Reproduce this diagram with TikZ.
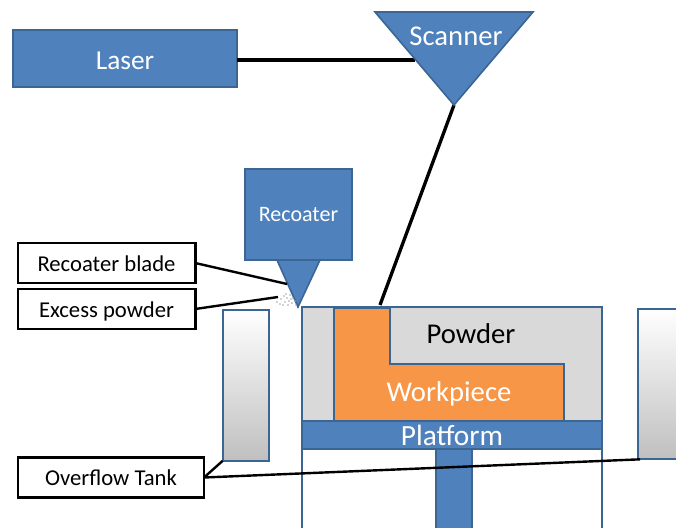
\documentclass[tikz,border=0pt]{standalone}
\usepackage{fontspec}
\setmainfont{Carlito}
\usetikzlibrary{shapes,calc}
\definecolor{lcblue}{HTML}{4F81BD}
\definecolor{lcedge}{HTML}{3B6694}
\definecolor{lcpowder}{HTML}{D9D9D9}
\definecolor{lcwork}{HTML}{F79646}
\begin{document}
\begin{tikzpicture}[x=0.75pt, y=-0.75pt]
% -------------------------------------------------
% A few box styles
\tikzset{
  base/.style={draw, inner sep=0pt, outer sep=0pt, align=center},
  unit/.style={base, rectangle, fill=lcblue, draw=lcedge, line width=1.5pt, text=white},
  label/.style={base, rectangle, fill=white, draw=black, line width=2pt,
    text height=12.5pt, text depth=0pt,
    minimum width=133pt, minimum height=30pt, font={\fontsize{17}{19}\selectfont}},
  tank/.style={base, rectangle, draw=lcedge, line width=1.5pt,
    top color=white, bottom color=black!25, minimum height=113pt},
  % -------------------------------------------------
  % Connector line styles
  beam/.style={draw, black, line width=2.5pt},
  lead/.style={draw, black, line width=1.8pt},
  grain/.style={fill=black!35, circle, inner sep=0pt, minimum size=1.4pt}
}
\clip (0,0) rectangle (676,528);
% -------------------------------------------------
% Coordinates for the outlines that are not boxes
\coordinate (s1) at (375,12);
\coordinate (s2) at (533,12);
\coordinate (s3) at (454,105);
\coordinate (b1) at (277,260);
\coordinate (b2) at (320,260);
\coordinate (b3) at (298,307);
\coordinate (bladeend) at (287,284);
\coordinate (grainend) at (278,297);
\coordinate (scanin) at (415,60);
\coordinate (beamend) at (380,305);
% -------------------------------------------------
% Connectors go first, the shapes sit on top of them
\node [unit, minimum width=168pt, minimum height=43pt, text height=15.8pt, text depth=0pt,
  font={\fontsize{20.5}{22}\selectfont}] (laser) at (125,58.5) {Laser};
\draw [beam] ($(laser.east)+(0,1.5)$) -- (scanin);
\draw [beam] (s3) -- (beamend);
% Scanner
\draw [fill=lcblue, draw=lcedge, line width=1.2pt] (s1) -- (s2) -- (s3) -- cycle;
\node [text=white, font={\fontsize{21.5}{23}\selectfont}] (scanner) at (456,36) {Scanner};
% Recoater
\node [unit, minimum width=80pt, minimum height=68pt,
  font={\fontsize{16.5}{18}\selectfont}] (recoater) at (298.5,214.5) {Recoater};
\draw [fill=lcblue, draw=lcedge, line width=1.2pt] (b1) -- (b2) -- (b3) -- cycle;
% excess powder
\foreach \gx/\gy in {281/299, 284/296, 287/298, 290/295, 293/298, 285/302, 289/301,
  292/303, 295/301, 280/304, 283/305, 288/305, 296/305, 291/299, 286/294, 277/302}
  \node [grain] (g\gx) at (\gx,\gy) {};
% -------------------------------------------------
% Build chamber
\node [base, rectangle, fill=lcpowder, draw=lcedge, line width=1.5pt,
  minimum width=225pt, minimum height=85.5pt] (bed) at (452,364) {};
\draw [fill=lcwork, draw=lcedge, line width=1.5pt]
  (334,308) -- (390,308) -- (390,364) -- (564,364) -- (564,421) -- (334,421) -- cycle;
\node [font={\fontsize{21.5}{23}\selectfont}, text=black] (powder) at (471,334) {Powder};
\node [text=white, font={\fontsize{21.5}{23}\selectfont}] (workpiece) at (449,394) {Workpiece};
\coordinate (wallL) at (302,449);
\coordinate (wallLb) at (302,528);
\coordinate (wallR) at (602,449);
\coordinate (wallRb) at (602,528);
\draw [draw=lcedge, line width=1.5pt] (wallL) -- (wallLb) (wallR) -- (wallRb);
\node [unit, minimum width=27pt, minimum height=65pt] (stem) at (453.5,490) {};
\node [unit, minimum width=225pt, minimum height=21pt,
  font={\fontsize{22}{24}\selectfont}] (platform) at (452,435) {Platform};
% -------------------------------------------------
% Overflow tanks
\node [tank, minimum width=35pt] (tankL) at (246,385.5) {};
\node [tank, minimum width=60pt] (tankR) at (678,384) {};
% -------------------------------------------------
% Labels and their leader lines
\node [label] (lblade) at (106.5,263) {Recoater blade};
\node [label] (lpowder) at (106.5,309) {Excess powder};
\node [label, minimum width=139.5pt] (ltank) at (111,477.5) {Overflow Tank};
\draw [lead] (lblade.east) -- (bladeend);
\draw [lead] (lpowder.east) -- (grainend);
\draw [lead] (ltank.east) -- (tankL.south west);
\draw [lead] (ltank.east) -- ($(tankR.south west)+(2,0)$);
% -------------------------------------------------
\end{tikzpicture}
\end{document}
